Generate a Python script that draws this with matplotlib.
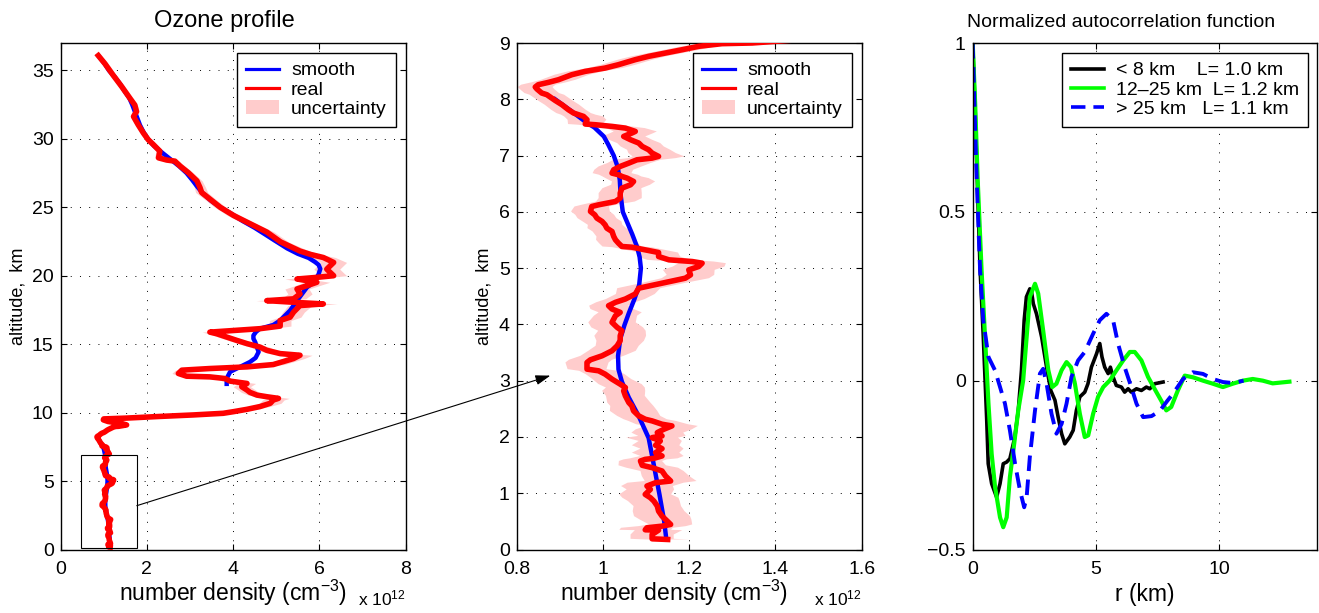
import numpy as np
import matplotlib
matplotlib.use('Agg')
import matplotlib.pyplot as plt
from matplotlib.patches import Rectangle, ConnectionPatch

plt.rcParams['font.family'] = ['Liberation Sans', 'DejaVu Sans']
plt.rcParams['mathtext.fontset'] = 'custom'
plt.rcParams['mathtext.rm'] = 'Liberation Sans'
plt.rcParams['mathtext.it'] = 'Liberation Sans:italic'
plt.rcParams['mathtext.bf'] = 'Liberation Sans:bold'

# ---------------- data: ozone profile (number density in units of 1e12 cm^-3) ----------------
real_alt = [0.178, 0.190, 0.267, 0.344, 0.350, 0.386, 0.415, 0.445, 0.534, 0.593,
            0.682, 0.772, 0.861, 0.920, 0.979, 1.068, 1.128, 1.187, 1.217, 1.306,
            1.395, 1.454, 1.496, 1.573, 1.602, 1.620, 1.662, 1.721, 1.792, 1.852,
            1.929, 1.988, 2.018, 2.077, 2.136, 2.196, 2.226, 2.285, 2.315, 2.374,
            2.463, 2.552, 2.611, 2.730, 2.819, 2.878, 2.938, 3.027, 3.116, 3.175,
            3.205, 3.323, 3.371, 3.442, 3.531, 3.620, 3.709, 3.798, 3.887, 3.947,
            4.036, 4.154, 4.214, 4.273, 4.332, 4.392, 4.451, 4.540, 4.643, 4.732,
            4.821, 4.880, 4.969, 5.028, 5.088, 5.117, 5.147, 5.206, 5.277, 5.325,
            5.372, 5.384, 5.443, 5.503, 5.562, 5.651, 5.710, 5.769, 5.829, 5.888,
            5.947, 6.007, 6.095, 6.125, 6.184, 6.244, 6.333, 6.421, 6.481, 6.540,
            6.599, 6.629, 6.659, 6.688, 6.748, 6.807, 6.866, 6.925, 6.955, 6.985,
            7.044, 7.103, 7.162, 7.222, 7.281, 7.340, 7.400, 7.429, 7.488, 7.518,
            7.548, 7.560, 7.637, 7.696, 7.726, 7.755, 7.814, 7.903, 7.980, 8.081,
            8.111, 8.182, 8.218, 8.259, 8.301, 8.348, 8.437, 8.496, 8.555, 8.615,
            8.704, 8.763, 8.822, 8.881, 8.941, 8.988, 9.000,
            9.10, 9.22, 9.35, 9.47, 9.54, 9.60, 9.72, 9.83, 9.95, 10.07,
            10.24, 10.44, 10.68, 10.92, 11.04, 11.16, 11.28, 11.48, 11.65, 11.89,
            12.13, 12.30, 12.49, 12.61, 12.66, 12.86, 13.10, 13.22, 13.34, 13.51,
            13.95, 14.19, 14.31, 14.55, 14.79, 15.04, 15.28, 15.52, 15.76, 15.88,
            16.00, 16.13, 16.32, 16.73, 16.97, 17.34, 17.82, 17.94, 18.06, 18.18,
            18.31, 18.67, 19.03, 19.27, 19.52, 19.76, 19.88, 20.00, 20.48, 20.97,
            21.33, 21.55, 21.80, 22.10, 22.47, 23.19, 23.80, 24.40, 25.00, 25.60,
            26.08, 26.45, 26.93, 27.53, 28.01, 28.37, 28.45, 28.61, 29.10, 29.58,
            29.94, 30.42, 31.02, 31.63, 31.99, 32.47, 32.95, 33.80, 34.64, 35.48,
            36.08]
real_dens = [1.150, 1.114, 1.114, 1.129, 1.098, 1.102, 1.137, 1.157, 1.145, 1.137,
             1.129, 1.126, 1.118, 1.110, 1.098, 1.110, 1.102, 1.122, 1.157, 1.145,
             1.137, 1.114, 1.091, 1.087, 1.098, 1.118, 1.137, 1.122, 1.137, 1.122,
             1.133, 1.114, 1.137, 1.126, 1.141, 1.160, 1.137, 1.114, 1.098, 1.083,
             1.071, 1.067, 1.060, 1.052, 1.048, 1.052, 1.040, 1.021, 1.005, 0.990,
             0.963, 0.963, 0.971, 0.998, 1.021, 1.033, 1.040, 1.040, 1.044, 1.033,
             1.021, 1.029, 1.040, 1.021, 1.013, 1.029, 1.052, 1.075, 1.083, 1.137,
             1.191, 1.203, 1.199, 1.222, 1.230, 1.207, 1.153, 1.129, 1.129, 1.098,
             1.067, 1.044, 1.036, 1.029, 1.025, 1.021, 1.009, 1.005, 0.998, 0.986,
             0.981, 0.971, 0.974, 0.990, 1.029, 1.040, 1.040, 1.044, 1.064, 1.071,
             1.056, 1.044, 1.036, 1.021, 1.025, 1.040, 1.060, 1.079, 1.114, 1.129,
             1.114, 1.106, 1.091, 1.083, 1.064, 1.048, 1.067, 1.075, 1.052, 1.021,
             0.982, 0.959, 0.963, 0.955, 0.943, 0.932, 0.920, 0.905, 0.889, 0.870,
             0.858, 0.847, 0.843, 0.850, 0.874, 0.897, 0.928, 0.959, 1.005, 1.036,
             1.075, 1.106, 1.145, 1.184, 1.222, 1.276, 1.346,
             1.53, 1.40, 1.10, 0.99, 1.00, 1.53, 2.30, 3.08, 3.77, 4.01,
             4.32, 4.62, 4.86, 4.93, 5.05, 4.78, 4.55, 4.39, 4.32, 4.20,
             4.32, 3.93, 3.81, 3.46, 2.92, 2.73, 2.81, 3.46, 4.32, 4.93,
             5.40, 5.55, 5.09, 4.78, 4.62, 4.32, 4.08, 3.85, 3.62, 3.46,
             4.01, 4.62, 5.09, 5.09, 5.32, 5.40, 5.55, 6.09, 5.40, 4.78,
             5.40, 5.55, 5.48, 5.71, 5.94, 5.48, 5.94, 6.33, 6.17, 6.33,
             6.09, 5.80, 5.55, 5.35, 5.10, 4.78, 4.39, 4.01, 3.70, 3.46,
             3.27, 3.23, 3.16, 2.96, 2.77, 2.65, 2.46, 2.27, 2.30, 2.15,
             2.03, 1.92, 1.80, 1.69, 1.76, 1.72, 1.61, 1.42, 1.22, 1.03,
             0.874]
real_unc = [0.050, 0.050, 0.050, 0.055, 0.060, 0.060, 0.055, 0.050, 0.060, 0.065,
            0.060, 0.055, 0.060, 0.065, 0.060, 0.055, 0.060, 0.065, 0.060, 0.055,
            0.050, 0.060, 0.055, 0.050, 0.050, 0.055, 0.050, 0.055, 0.050, 0.055,
            0.050, 0.060, 0.055, 0.060, 0.065, 0.060, 0.060, 0.055, 0.050, 0.050,
            0.055, 0.050, 0.050, 0.045, 0.050, 0.045, 0.050, 0.045, 0.045, 0.045,
            0.045, 0.050, 0.050, 0.050, 0.055, 0.050, 0.055, 0.060, 0.055, 0.060,
            0.055, 0.050, 0.050, 0.050, 0.045, 0.045, 0.045, 0.045, 0.050, 0.050,
            0.055, 0.055, 0.060, 0.060, 0.055, 0.050, 0.050, 0.050, 0.045, 0.045,
            0.045, 0.045, 0.045, 0.045, 0.040, 0.045, 0.045, 0.040, 0.045, 0.045,
            0.045, 0.045, 0.040, 0.040, 0.045, 0.050, 0.050, 0.045, 0.045, 0.050,
            0.050, 0.045, 0.045, 0.045, 0.045, 0.050, 0.050, 0.055, 0.055, 0.060,
            0.055, 0.050, 0.050, 0.050, 0.050, 0.050, 0.050, 0.050, 0.045, 0.045,
            0.040, 0.040, 0.045, 0.045, 0.040, 0.040, 0.040, 0.040, 0.040, 0.040,
            0.040, 0.040, 0.040, 0.040, 0.040, 0.040, 0.040, 0.040, 0.040, 0.040,
            0.040, 0.040, 0.040, 0.040, 0.040, 0.040, 0.040,
            0.05, 0.05, 0.05, 0.05, 0.05, 0.08, 0.10, 0.15, 0.18, 0.20,
            0.20, 0.22, 0.25, 0.25, 0.25, 0.22, 0.20, 0.20, 0.20, 0.20,
            0.20, 0.18, 0.18, 0.15, 0.15, 0.15, 0.15, 0.18, 0.20, 0.25,
            0.25, 0.28, 0.25, 0.22, 0.22, 0.20, 0.20, 0.20, 0.18, 0.18,
            0.20, 0.22, 0.25, 0.25, 0.25, 0.25, 0.28, 0.32, 0.28, 0.25,
            0.28, 0.28, 0.28, 0.28, 0.30, 0.28, 0.30, 0.30, 0.30, 0.30,
            0.28, 0.25, 0.22, 0.20, 0.18, 0.17, 0.15, 0.14, 0.13, 0.13,
            0.14, 0.13, 0.12, 0.11, 0.11, 0.10, 0.10, 0.09, 0.09, 0.08,
            0.08, 0.07, 0.07, 0.06, 0.06, 0.06, 0.05, 0.05, 0.04, 0.04,
            0.03]

# smooth profile: troposphere part and upper part (gap between them)
smooth_alt_low = [0.178, 0.5, 0.98, 1.5, 1.98, 2.37, 2.7, 2.98, 3.2, 3.44,
                  3.74, 3.99, 4.2, 4.45, 4.7, 5.0, 5.2, 5.38, 5.6, 5.8,
                  6.0, 6.3, 6.57, 6.8, 7.0, 7.2, 7.34, 7.5, 7.58, 7.8, 8.0]
smooth_dens_low = [1.147, 1.142, 1.131, 1.118, 1.106, 1.083, 1.060, 1.044, 1.036, 1.035,
                   1.040, 1.050, 1.060, 1.073, 1.084, 1.088, 1.085, 1.079, 1.068, 1.057,
                   1.046, 1.041, 1.039, 1.034, 1.025, 1.012, 1.002, 0.980, 0.963, 0.925, 0.889]
smooth_alt_high = [12.1, 12.49, 12.98, 13.34, 13.7, 14.0, 14.43, 14.8, 15.16, 15.4,
                   15.64, 15.9, 16.13, 16.4, 16.73, 17.46, 18.3, 19.15, 19.5, 20.1,
                   20.5, 20.8, 21.0, 21.3, 21.6, 22.0, 22.5, 23.0, 23.5, 24.0,
                   24.5, 25.0, 25.5, 26.0, 26.5, 27.0, 27.5, 28.0, 28.5, 29.0,
                   29.5, 30.0, 30.5, 31.0, 31.5, 32.0, 32.5, 33.0, 33.5, 34.0,
                   34.5, 35.0, 35.5, 36.08]
smooth_dens_high = [3.85, 3.85, 3.93, 4.16, 4.39, 4.52, 4.59, 4.55, 4.51, 4.47,
                    4.47, 4.53, 4.62, 4.93, 5.09, 5.32, 5.51, 5.71, 5.86, 5.98,
                    6.02, 5.98, 5.90, 5.75, 5.50, 5.25, 5.00, 4.75, 4.50, 4.22,
                    3.97, 3.70, 3.48, 3.30, 3.17, 3.05, 2.92, 2.75, 2.55, 2.35,
                    2.16, 2.02, 1.92, 1.84, 1.78, 1.72, 1.66, 1.59, 1.48, 1.38,
                    1.26, 1.12, 1.02, 0.874]

# ---------------- data: normalized autocorrelation ----------------
r_low = [0, 0.1, 0.2, 0.3, 0.43, 0.57, 0.63, 0.77, 0.97, 1.11, 1.24, 1.38, 1.51, 1.71,
         1.85, 1.98, 2.09, 2.18, 2.32, 2.39, 2.46, 2.59, 2.80, 3.0, 3.17, 3.34, 3.47,
         3.61, 3.74, 3.94, 4.08, 4.21, 4.35, 4.55, 4.68, 4.82, 5.03, 5.16, 5.25, 5.36,
         5.50, 5.59, 5.70, 5.83, 6.04, 6.17, 6.31, 6.44, 6.65, 6.85, 7.05, 7.19, 7.39, 7.73]
acf_low = [1, 0.80, 0.56, 0.33, 0.13, -0.118, -0.246, -0.305, -0.345, -0.305, -0.246,
           -0.241, -0.231, -0.167, -0.088, 0.031, 0.179, 0.248, 0.272, 0.263, 0.228, 0.198,
           0.129, 0.04, -0.029, -0.058, -0.108, -0.157, -0.187, -0.167, -0.147, -0.088,
           -0.048, -0.034, -0.009, 0.04, 0.08, 0.11, 0.07, 0.04, 0.021, 0.04, 0.011, -0.014,
           -0.019, -0.034, -0.024, -0.034, -0.024, -0.029, -0.019, -0.024, -0.009, -0.004]
r_mid = [0, 0.1, 0.2, 0.36, 0.50, 0.64, 0.77, 0.91, 1.11, 1.24, 1.38, 1.51, 1.65, 1.85,
         2.05, 2.19, 2.32, 2.53, 2.66, 2.86, 3.07, 3.23, 3.40, 3.61, 3.81, 3.99, 4.15,
         4.35, 4.55, 4.69, 4.89, 5.09, 5.30, 5.57, 5.84, 6.11, 6.38, 6.58, 6.85, 7.12,
         7.39, 7.66, 7.86, 8.06, 8.33, 8.61, 8.94, 9.35, 9.75, 10.16, 10.56, 10.97,
         11.37, 11.78, 12.18, 12.86]
acf_mid = [1, 0.82, 0.60, 0.327, 0.129, -0.068, -0.217, -0.316, -0.405, -0.434, -0.405,
           -0.286, -0.207, -0.088, 0.001, 0.129, 0.248, 0.287, 0.258, 0.149, 0.031, -0.019,
           -0.009, 0.031, 0.055, 0.040, -0.009, -0.098, -0.167, -0.162, -0.098, -0.048,
           -0.019, 0.001, 0.031, 0.060, 0.085, 0.085, 0.060, 0.011, -0.025, -0.060, -0.088,
           -0.078, -0.029, 0.015, 0.010, 0.0, -0.009, -0.019, -0.009, 0.0, 0.005, 0.0,
           -0.008, -0.003]
r_high = [0, 0.13, 0.2, 0.3, 0.43, 0.64, 0.91, 1.11, 1.31, 1.51, 1.72, 1.92, 2.09, 2.19,
          2.32, 2.53, 2.73, 2.86, 3.0, 3.20, 3.40, 3.61, 3.81, 4.01, 4.28, 4.55, 4.89,
          5.16, 5.43, 5.70, 5.90, 6.17, 6.44, 6.65, 6.92, 7.26, 7.59, 7.90, 8.13, 8.54,
          8.94, 9.35, 9.75, 10.16, 10.56, 11.0]
acf_high = [1, 0.67, 0.52, 0.327, 0.179, 0.070, 0.030, -0.019, -0.068, -0.147, -0.246,
            -0.325, -0.375, -0.345, -0.226, -0.088, 0.021, 0.035, -0.009, -0.098, -0.157,
            -0.128, -0.068, 0.011, 0.060, 0.085, 0.139, 0.179, 0.198, 0.179, 0.110, 0.040,
            -0.019, -0.068, -0.108, -0.105, -0.090, -0.060, -0.039, 0.005, 0.025, 0.020,
            0.005, -0.004, -0.007, 0.0]

acf_labels = ['< 8 km    L= 1.0 km', '12\u201325 km  L= 1.2 km', '> 25 km   L= 1.1 km']
profile_labels = ['smooth', 'real', 'uncertainty']

# ---------------- figure ----------------
W, H = 1319, 613
fig = plt.figure(figsize=(W / 100, H / 100), dpi=100)


def rect(x0, x1, ytop, ybot):
    return [x0 / W, 1 - ybot / H, (x1 - x0) / W, (ybot - ytop) / H]


ax1 = fig.add_axes(rect(60.6, 405.7, 43, 549.5))
ax2 = fig.add_axes(rect(516.7, 861.7, 43, 549.5))
ax3 = fig.add_axes(rect(972.7, 1317.5, 43, 549.5))

PINK = '#ffcccc'


def style(ax):
    ax.set_axisbelow(True)
    ax.grid(True, color='k', linestyle=(0, (1, 8.5)), linewidth=0.7)
    ax.tick_params(direction='in', top=True, right=True, length=4, width=0.8,
                   labelsize=14, colors='k')
    ax.tick_params(axis='x', pad=8)
    ax.tick_params(axis='y', pad=5)
    for s in ax.spines.values():
        s.set_linewidth(1.0)
        s.set_color('k')


ra = np.array(real_alt)
rd = np.array(real_dens)
ru = np.array(real_unc)


def make_legend(ax, handles, labels, lw):
    leg = ax.legend(handles, labels, loc='upper right', fontsize=14,
                    frameon=True, fancybox=False, framealpha=1, edgecolor='k',
                    borderpad=0.47, labelspacing=0.08, handlelength=1.7,
                    handletextpad=0.6, borderaxespad=0.5)
    leg.get_frame().set_linewidth(1.0)
    for ln in leg.get_lines():
        ln.set_linewidth(lw)
    return leg


def draw_profile(ax):
    band = ax.fill_betweenx(ra, rd - ru, rd + ru, color=PINK, lw=0, label=profile_labels[2], zorder=1)
    sm, = ax.plot(smooth_dens_low, smooth_alt_low, color='b', lw=3.2, label=profile_labels[0], zorder=2)
    ax.plot(smooth_dens_high, smooth_alt_high, color='b', lw=3.2, zorder=2)
    rl, = ax.plot(rd, ra, color='r', lw=4, label=profile_labels[1], zorder=3,
                  solid_joinstyle='round')
    return make_legend(ax, [sm, rl, band], profile_labels, 2.3)


# ---- left panel ----
style(ax1)
draw_profile(ax1)
ax1.set_xlim(0, 8)
ax1.set_ylim(0, 37)
ax1.set_xticks([0, 2, 4, 6, 8])
ax1.set_xticklabels(['0', '2', '4', '6', '8'])
ax1.set_yticks([0, 5, 10, 15, 20, 25, 30, 35])
ax1.set_yticklabels(['0', '5', '10', '15', '20', '25', '30', '35'])
ax1.set_title('Ozone profile', fontsize=17, x=0.475, y=1.0316, pad=0, va='baseline')
ax1.set_xlabel('number density (cm$^{-3}$)', fontsize=16.5)
ax1.xaxis.set_label_coords(0.5, -0.1017)
ax1.xaxis.label.set_va('baseline')
ax1.set_ylabel('altitude,  km', fontsize=13)
ax1.yaxis.set_label_coords(-0.122, 0.5)
ax1.yaxis.label.set_va('center')
ax1.text(1.0, -0.111, 'x 10$^{12}$', transform=ax1.transAxes, ha='right', va='baseline', fontsize=12.5)
ax1.add_patch(Rectangle((0.466, 0.12), 1.30, 6.75, fill=False, edgecolor='k', lw=0.8, zorder=4))

# ---- middle panel ----
style(ax2)
draw_profile(ax2)
ax2.set_xlim(0.8, 1.6)
ax2.set_ylim(0, 9)
ax2.set_xticks([0.8, 1.0, 1.2, 1.4, 1.6])
ax2.set_xticklabels(['0.8', '1', '1.2', '1.4', '1.6'])
ax2.set_yticks(list(range(10)))
ax2.set_yticklabels([str(v) for v in range(10)])
ax2.set_xlabel('number density (cm$^{-3}$)', fontsize=16.5)
ax2.xaxis.set_label_coords(0.456, -0.1017)
ax2.xaxis.label.set_va('baseline')
ax2.set_ylabel('altitude,  km', fontsize=13)
ax2.yaxis.set_label_coords(-0.0948, 0.5)
ax2.yaxis.label.set_va('center')
ax2.text(1.0, -0.111, 'x 10$^{12}$', transform=ax2.transAxes, ha='right', va='baseline', fontsize=12.5)

con = ConnectionPatch(xyA=(1.766, 3.2), coordsA=ax1.transData,
                      xyB=(0.878, 3.09), coordsB=ax2.transData,
                      arrowstyle='-|>,head_length=0.6,head_width=0.2', mutation_scale=15,
                      lw=0.8, color='k', zorder=10)
fig.add_artist(con)

# ---- right panel ----
style(ax3)
l1, = ax3.plot(r_low, acf_low, color='k', lw=2.6, label=acf_labels[0])
l2, = ax3.plot(r_mid, acf_mid, color='#00ff00', lw=3, label=acf_labels[1])
l3, = ax3.plot(r_high, acf_high, color='b', lw=2.8, linestyle=(0, (4, 2.2)), label=acf_labels[2])
ax3.set_xlim(0, 14)
ax3.set_ylim(-0.5, 1)
ax3.set_xticks([0, 5, 10])
ax3.set_xticklabels(['0', '5', '10'])
ax3.set_yticks([-0.5, 0, 0.5, 1])
ax3.set_yticklabels(['\u22120.5', '0', '0.5', '1'])
ax3.set_title('Normalized autocorrelation function', fontsize=14, x=0.431, y=1.0316,
              pad=0, va='baseline')
ax3.set_xlabel('r (km)', fontsize=16.5)
ax3.xaxis.set_label_coords(0.5, -0.1017)
ax3.xaxis.label.set_va('baseline')
make_legend(ax3, [l1, l2, l3], acf_labels, 2.6)

fig.savefig('out.png', dpi=100)
